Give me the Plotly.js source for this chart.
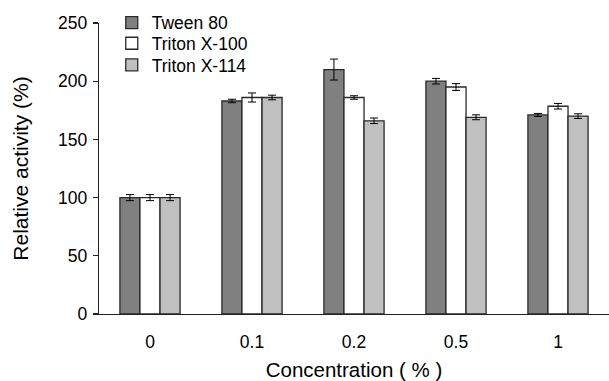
<!DOCTYPE html>
<html>
<head>
<meta charset="utf-8">
<script src="https://cdn.plot.ly/plotly-3.0.1.min.js"></script>
<style>html,body{margin:0;padding:0;background:#fff;}#chart{width:609px;height:381px;}</style>
</head>
<body>
<div id="chart"></div>
<script>
const categories = ["0", "0.1", "0.2", "0.5", "1"];
const seriesNames = ["Tween 80", "Triton X-100", "Triton X-114"];
const tween80 = [100, 183, 210, 200, 171];
const tween80Err = [2.6, 1.5, 9, 2.4, 1.3];
const tritonX100 = [100, 186, 186, 195, 178.5];
const tritonX100Err = [2.6, 3.9, 1.5, 2.9, 2.4];
const tritonX114 = [100, 186, 166, 169, 170];
const tritonX114Err = [2.6, 2.0, 2.4, 2.1, 2.0];
const yTicks = [0, 50, 100, 150, 200, 250];

const fills = ["#808080", "#ffffff", "#c0c0c0"];
const values = [tween80, tritonX100, tritonX114];
const errs = [tween80Err, tritonX100Err, tritonX114Err];
const legendIds = ["legend", "legend2", "legend3"];
const legendY = [1.001, 0.930, 0.856];

const traces = values.map((v, i) => ({
  type: "bar",
  name: seriesNames[i],
  legend: legendIds[i],
  x: categories,
  y: v,
  marker: {color: fills[i], line: {color: "#2a2a2a", width: 1.3}},
  error_y: {type: "data", array: errs[i], visible: true, color: "#000", thickness: 1, width: 4}
}));

const font = "Liberation Sans, Arial, sans-serif";
const layout = {
  width: 609, height: 381,
  margin: {l: 99, r: 0, t: 23, b: 67, pad: 0},
  paper_bgcolor: "#fff", plot_bgcolor: "#fff",
  barmode: "group", bargap: 0.41, bargroupgap: 0,
  font: {family: font, color: "#000", size: 17},
  showlegend: true,
  xaxis: {
    type: "category", showgrid: false, zeroline: false,
    showline: true, linecolor: "#222", linewidth: 1.3,
    ticks: "", ticklabelstandoff: 12,
    tickfont: {family: font, size: 17.5, color: "#000"},
    title: {text: "Concentration ( % )", font: {family: font, size: 20.5, color: "#000"}, standoff: 13}
  },
  yaxis: {
    range: [0, 250], tickvals: yTicks, ticktext: yTicks.map(String),
    showgrid: false, zeroline: false,
    showline: true, linecolor: "#222", linewidth: 1.3,
    ticks: "outside", ticklen: 5, tickcolor: "#222", tickwidth: 1.3,
    ticklabelstandoff: 2,
    tickfont: {family: font, size: 17.5, color: "#000"},
    title: {text: "Relative activity (%)", font: {family: font, size: 21, color: "#000"}, standoff: 23}
  }
};
legendIds.forEach((id, i) => {
  layout[id] = {x: 0.025, y: legendY[i], xanchor: "left", yanchor: "middle",
    bgcolor: "rgba(0,0,0,0)", font: {family: font, size: 17.5, color: "#000"}, itemwidth: 30};
});

Plotly.newPlot("chart", traces, layout, {displayModeBar: false, staticPlot: true});
</script>
</body>
</html>
